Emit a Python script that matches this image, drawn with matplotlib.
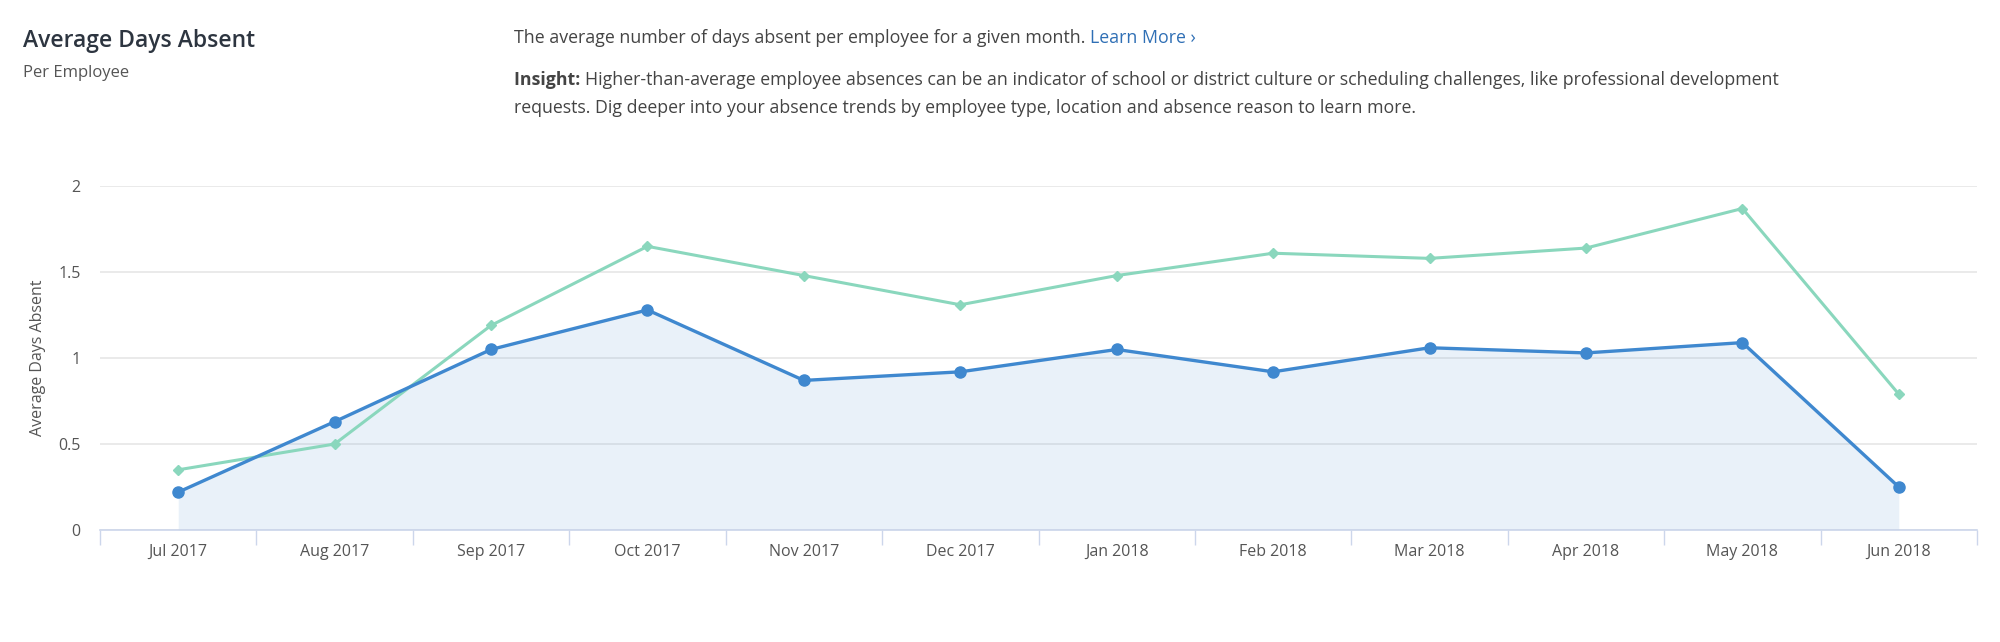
import matplotlib
matplotlib.use("Agg")
import matplotlib.pyplot as plt
import numpy as np

months = ["Jul 2017", "Aug 2017", "Sep 2017", "Oct 2017", "Nov 2017", "Dec 2017",
          "Jan 2018", "Feb 2018", "Mar 2018", "Apr 2018", "May 2018", "Jun 2018"]
blue_vals = [0.22, 0.63, 1.05, 1.28, 0.87, 0.92, 1.05, 0.92, 1.06, 1.03, 1.09, 0.25]
green_vals = [0.35, 0.50, 1.19, 1.65, 1.48, 1.31, 1.48, 1.61, 1.58, 1.64, 1.87, 0.79]
y_ticks = [0, 0.5, 1, 1.5, 2]
y_tick_labels = ["0", "0.5", "1", "1.5", "2"]

BLUE = "#3f88cf"
GREEN = "#8ad7bd"
plt.rcParams['font.family'] = ['Open Sans', 'DejaVu Sans']

fig = plt.figure(figsize=(20, 6.42), dpi=100)
ax = fig.add_axes([0.05, 0.1745, 0.9385, 0.5355])

x = np.arange(len(months))
ax.fill_between(x, 0, blue_vals, color=BLUE, alpha=0.11, linewidth=0, zorder=1)
ax.plot(x, green_vals, color=GREEN, lw=2.2, marker="D", markersize=5.5, zorder=3)
ax.plot(x, blue_vals, color=BLUE, lw=2.4, marker="o", markersize=8, zorder=4)

ax.set_xlim(-0.5, len(months) - 0.5)
ax.set_ylim(0, 2)
ax.set_yticks(y_ticks)
ax.set_yticklabels(y_tick_labels)
ax.set_xticks(x)
ax.set_xticklabels(months)
ax.set_xticks(np.arange(-0.5, len(months)), minor=True)
ax.tick_params(axis="x", which="major", length=0, pad=10, labelsize=11.5, labelcolor="#555555")
ax.tick_params(axis="x", which="minor", length=11, width=1, color="#ccd6eb")
ax.tick_params(axis="y", length=0, pad=14, labelsize=11.5, labelcolor="#555555")

ax.grid(axis="y", color="#e6e6e6", lw=1.2, zorder=0)
ax.set_axisbelow(True)
for s in ["top", "right", "left"]:
    ax.spines[s].set_visible(False)
ax.spines["bottom"].set_color("#ccd6eb")
ax.spines["bottom"].set_linewidth(1.2)
ax.spines["bottom"].set_zorder(5)

fig.text(38 / 2000, 1 - 358 / 642, "Average Days Absent", fontsize=11.5, color="#555555",
         rotation=90, va="center", ha="center")

fig.text(23 / 2000, 1 - 41 / 642, "Average Days Absent", fontsize=16.5, color="#2d3540",
         va="center", ha="left", weight="semibold")
fig.text(23 / 2000, 1 - 73 / 642, "Per Employee", fontsize=12, color="#555555",
         va="center", ha="left")

FS = 12.8
tx = 514 / 2000
t1 = fig.text(tx, 1 - 38 / 642, "The average number of days absent per employee for a given month. ",
              fontsize=FS, color="#444444", va="center", ha="left")
fig.canvas.draw()
bb = t1.get_window_extent()
fig.text(bb.x1 / 2000, 1 - 38 / 642, "Learn More \u203a", fontsize=FS, color="#2f6fb5",
         va="center", ha="left")
t2 = fig.text(tx, 1 - 80 / 642, "Insight: ", fontsize=FS, color="#444444",
              va="center", ha="left", weight="bold")
fig.canvas.draw()
bb2 = t2.get_window_extent()
fig.text(bb2.x1 / 2000, 1 - 80 / 642,
         "Higher-than-average employee absences can be an indicator of school or district culture or scheduling challenges, like professional development",
         fontsize=FS, color="#444444", va="center", ha="left")
fig.text(tx, 1 - 108 / 642,
         "requests. Dig deeper into your absence trends by employee type, location and absence reason to learn more.",
         fontsize=FS, color="#444444", va="center", ha="left")

fig.savefig("out.png", dpi=100, facecolor="white")
